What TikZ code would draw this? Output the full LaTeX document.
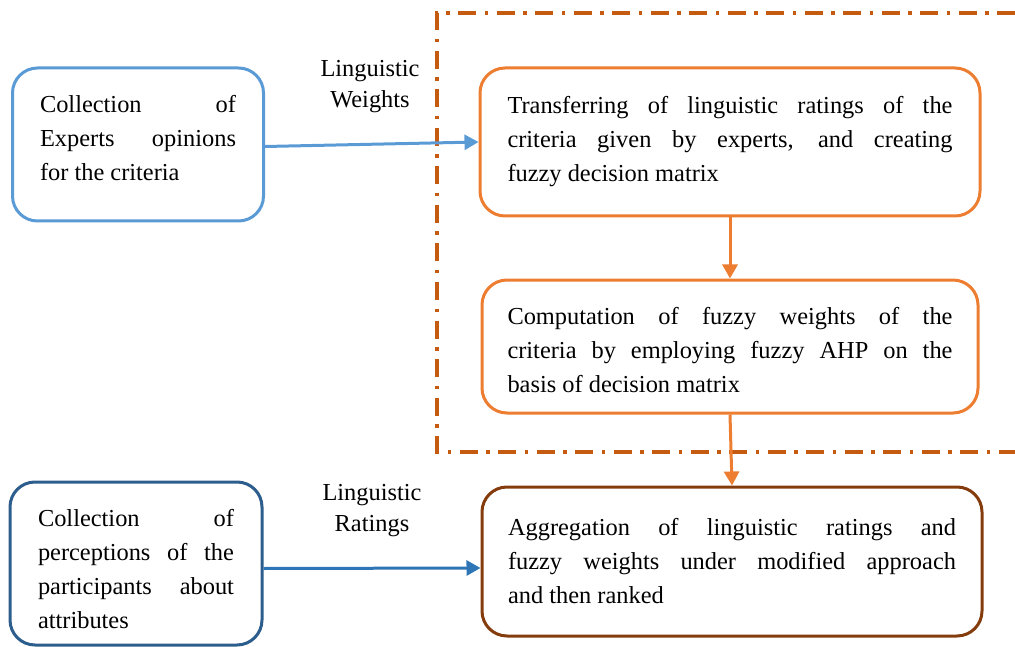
\documentclass[tikz,border=0pt]{standalone}
\usepackage{fontspec}
\setmainfont{Liberation Serif}
\usetikzlibrary{arrows.meta, positioning, calc}

\tolerance=10000
\hyphenpenalty=10000

\tikzset{
    stepbox/.style={draw, rounded corners=25pt, line width=3pt, align=justify,
        inner sep=0pt, text=black},
    flowarrow/.style={line width=3pt, -{Triangle[length=14pt, width=15pt]}},
    linklabel/.style={align=center, inner sep=0pt, font=\fontsize{24.4}{31}\selectfont}
}

\begin{document}
\begin{tikzpicture}[
    x=1pt, y=-1pt,
    font=\fontsize{24.4}{34}\selectfont
]
    % canvas fixed to the reference size
    \path[use as bounding box] (0, 0) rectangle (1015, 647);

    % ==========================================
    % colours
    % ==========================================
    \definecolor{lightblue}{HTML}{5B9BD5}   % expert box / arrow
    \definecolor{navyblue}{HTML}{2C5D8C}    % participants box
    \definecolor{midblue}{HTML}{2E75B6}     % ratings arrow
    \definecolor{fuzzyorange}{HTML}{ED7D31} % fuzzy AHP boxes
    \definecolor{rustorange}{HTML}{C55A11}  % dash-dot frame
    \definecolor{aggbrown}{HTML}{843C0C}    % aggregation box

    % ==========================================
    % dash-dot frame round the fuzzy AHP part
    % ==========================================
    \draw[rustorange, line width=3.5pt, dash pattern=on 18pt off 8.5pt on 3.5pt off 8.5pt]
        (1015, 13) -- (437, 13) -- (437, 452) -- (1015, 452);

    % ==========================================
    % upper row: expert opinions
    % ==========================================
    \node[stepbox, draw=lightblue, minimum width=251pt, minimum height=153pt,
          text width=196pt, text depth=82pt] (collA) at (138, 144.5)
        {Collection of\linebreak Experts opinions\linebreak for the criteria};

    \node[stepbox, draw=fuzzyorange, minimum width=500pt, minimum height=148pt,
          text width=445pt] (transB) at (730, 142)
        {Transferring of linguistic ratings of the\linebreak criteria given by experts, and creating\linebreak fuzzy decision matrix};

    \node[stepbox, draw=fuzzyorange, minimum width=496pt, minimum height=133pt,
          text width=445pt, text height=25pt] (compC) at (730, 346.5)
        {Computation of fuzzy weights of the\linebreak criteria by employing fuzzy AHP on the\linebreak basis of decision matrix};

    % ==========================================
    % lower row: participant perceptions
    % ==========================================
    \node[stepbox, draw=navyblue, minimum width=252pt, minimum height=163pt,
          text width=196pt, text height=29pt] (collE) at (136, 563.5)
        {Collection of\linebreak perceptions of the\linebreak participants about\linebreak attributes};

    \node[stepbox, draw=aggbrown, minimum width=500pt, minimum height=149pt,
          text width=448pt] (aggD) at (732, 561.5)
        {Aggregation of linguistic ratings and\linebreak fuzzy weights under modified approach\linebreak and then ranked};

    % labels on the links
    \node[linklabel] (lblW) at (370, 87) {Linguistic\\Weights};
    \node[linklabel] (lblR) at (372, 511) {Linguistic\\Ratings};

    % ==========================================
    % connectors
    % ==========================================
    \draw[flowarrow, lightblue] ([yshift=-2pt]collA.east) -- (transB.west);
    \draw[flowarrow, fuzzyorange] (transB.south) -- (compC.north);
    \draw[flowarrow, fuzzyorange] (compC.south) -- (aggD.north);
    \draw[flowarrow, midblue] ([yshift=-5pt]collE.east) -- ([yshift=-6.5pt]aggD.west);

\end{tikzpicture}
\end{document}
